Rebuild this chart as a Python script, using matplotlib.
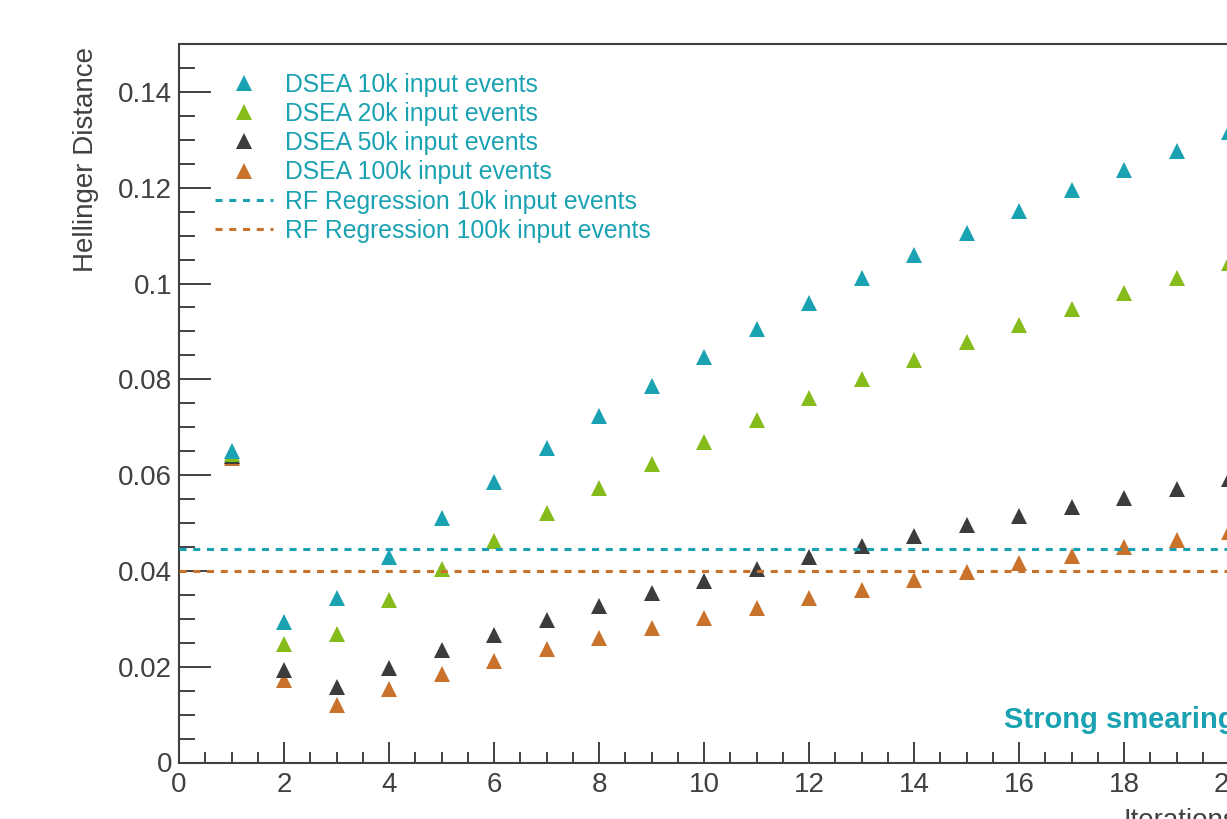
import matplotlib
matplotlib.use("Agg")
import matplotlib.pyplot as plt
from matplotlib.ticker import MultipleLocator, FormatStrFormatter
from matplotlib.lines import Line2D

plt.rcParams['font.family'] = ['Liberation Sans', 'DejaVu Sans']

iterations = list(range(1, 21))
dsea_10k = [0.0651, 0.0294, 0.0343, 0.0430, 0.0510, 0.0585, 0.0656, 0.0724, 0.0787, 0.0847,
            0.0904, 0.0960, 0.1012, 0.1060, 0.1106, 0.1152, 0.1195, 0.1237, 0.1276, 0.1317]
dsea_20k = [0.0644, 0.0247, 0.0269, 0.0339, 0.0404, 0.0463, 0.0520, 0.0573, 0.0624, 0.0670,
            0.0716, 0.0760, 0.0801, 0.0840, 0.0878, 0.0913, 0.0947, 0.0980, 0.1011, 0.1042]
dsea_50k = [0.0639, 0.0194, 0.0158, 0.0198, 0.0234, 0.0266, 0.0297, 0.0326, 0.0354, 0.0379,
            0.0405, 0.0428, 0.0451, 0.0473, 0.0495, 0.0515, 0.0534, 0.0553, 0.0571, 0.0592]
dsea_100k = [0.0636, 0.0173, 0.0121, 0.0154, 0.0184, 0.0212, 0.0236, 0.0259, 0.0281, 0.0302,
             0.0323, 0.0343, 0.0361, 0.0380, 0.0398, 0.0416, 0.0432, 0.0449, 0.0465, 0.0481]
rf_10k = 0.0445
rf_100k = 0.0400

labels = ["DSEA 10k input events", "DSEA 20k input events", "DSEA 50k input events",
          "DSEA 100k input events", "RF Regression 10k input events",
          "RF Regression 100k input events"]

cyan = "#1ba2b2"
green = "#86bb1c"
dark = "#3c3c3c"
orange = "#c9722b"
axcol = "#404040"

fig = plt.figure(figsize=(12.27, 8.19), dpi=100)
ax = fig.add_axes([179 / 1227, 56.5 / 819, 1058 / 1227, 718.5 / 819])

# draw 100k first so the 10k markers end up on top where points overlap
mk = dict(marker="^", ms=11, mew=0, ls="none")
p100, = ax.plot(iterations, dsea_100k, color=orange, **mk)
p50, = ax.plot(iterations, dsea_50k, color=dark, **mk)
p20, = ax.plot(iterations, dsea_20k, color=green, **mk)
p10, = ax.plot(iterations, dsea_10k, color=cyan, **mk)

l10 = ax.axhline(rf_10k, color=cyan, lw=2.2, dashes=(2.3, 2.2), zorder=3)
l100 = ax.axhline(rf_100k, color=orange, lw=2.2, dashes=(2.3, 2.2), zorder=3)

ax.set_xlim(0, 20.15)
ax.set_ylim(0, 0.15)

ax.xaxis.set_major_locator(MultipleLocator(2))
ax.xaxis.set_minor_locator(MultipleLocator(0.5))
ax.yaxis.set_major_locator(MultipleLocator(0.02))
ax.yaxis.set_minor_locator(MultipleLocator(0.005))
ax.yaxis.set_major_formatter(FormatStrFormatter("%g"))

ax.tick_params(axis="both", which="both", direction="in", color=axcol,
               labelcolor=axcol, labelsize=20, width=1.4)
ax.tick_params(axis="x", which="major", length=15, pad=6.5)
ax.tick_params(axis="x", which="minor", length=8)
ax.tick_params(axis="y", which="major", length=23, pad=5)
ax.tick_params(axis="y", which="minor", length=11.5)

for s in ax.spines.values():
    s.set_color(axcol)
    s.set_linewidth(1.5)

ax.set_ylabel("Hellinger Distance", fontsize=20, color=axcol, loc="top")
ax.yaxis.set_label_coords(-0.076, 0.996)
ax.set_xlabel("Iterations", fontsize=20, color=axcol, loc="right")
ax.xaxis.set_label_coords(1.0, -0.063)

ax.text(15.71, 0.0073, "Strong smearing", color=cyan, fontsize=21,
        fontweight="bold", va="baseline", ha="left")

handles = [p10, p20, p50, p100,
           Line2D([], [], color=cyan, lw=2.2, dashes=(2.3, 2.2)),
           Line2D([], [], color=orange, lw=2.2, dashes=(2.3, 2.2))]
ax.legend(handles, labels, loc="upper left", bbox_to_anchor=(0.034, 0.960),
          frameon=False, fontsize=17.85, labelcolor=cyan, handlelength=2.35,
          handletextpad=0.49, labelspacing=0.21, borderaxespad=0, borderpad=0)

fig.savefig("out.png", dpi=100)
